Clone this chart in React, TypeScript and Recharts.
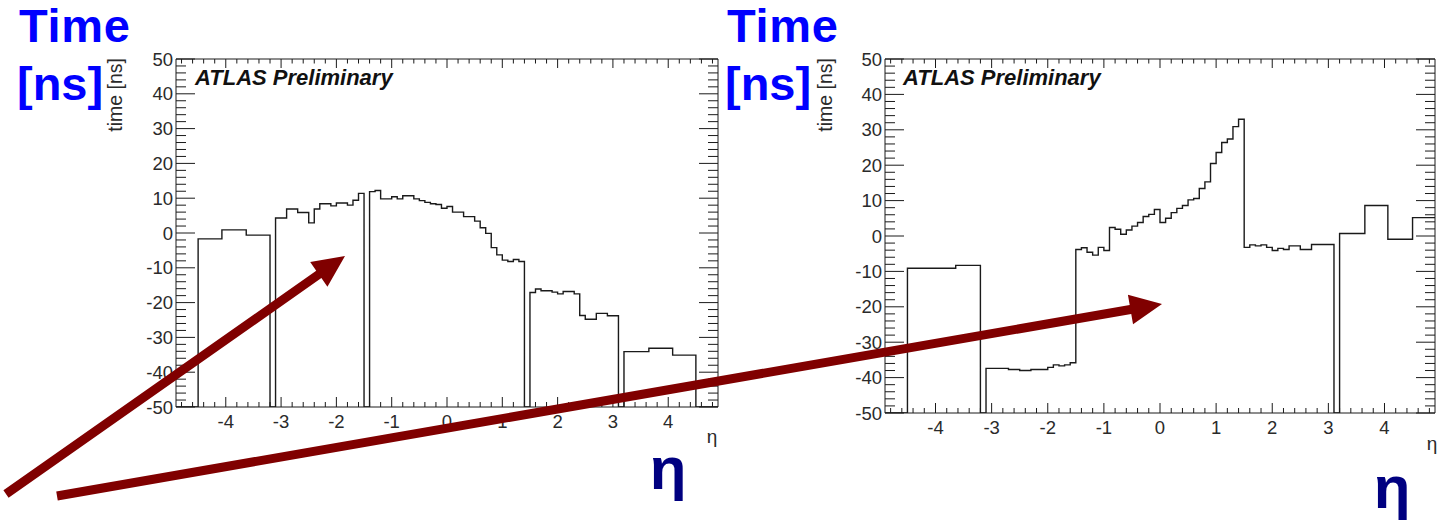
import React from "react";
import { LineChart, Line, XAxis, YAxis } from "recharts";

// ---- data: bin left edges (eta) and mean time [ns]; -50 = empty bin (drawn to frame bottom)
const leftEta = [
  -4.9, -4.5, -4.07, -3.63, -3.2, -3.1, -2.9, -2.7, -2.5, -2.4, -2.3, -2.1, -2.0, -1.8, -1.7, -1.6,
  -1.5, -1.4, -1.3, -1.2, -1.1, -1.0, -0.9, -0.8, -0.7, -0.6, -0.5, -0.4, -0.3, -0.2, -0.1, 0.0,
  0.1, 0.2, 0.3, 0.4, 0.5, 0.6, 0.7, 0.8, 0.9, 1.0, 1.1, 1.2, 1.3, 1.4, 1.5, 1.6, 1.7, 1.9, 2.0,
  2.1, 2.3, 2.4, 2.5, 2.7, 2.9, 3.1, 3.2, 3.65, 4.08, 4.5, 4.9,
];
const leftTime = [
  -50, -1.7, 0.9, -0.6, -50, 4.3, 6.9, 5.9, 2.9, 6.9, 8.4, 7.8, 8.6, 8.0, 9.4, 11.4,
  -50, 11.9, 12.2, 9.8, 9.8, 10.4, 9.8, 10.7, 10.7, 9.8, 9.3, 8.8, 8.4, 8.2, 7.1, 7.6,
  6.0, 6.0, 4.7, 4.7, 3.4, 1.5, -0.1, -4.2, -6.3, -7.8, -8.2, -7.6, -8.2, -50, -17.1, -16.1, -16.6, -17.0, -17.5,
  -16.8, -17.5, -23.7, -24.8, -23.1, -23.8, -50, -34.1, -33.1, -35.1, -50, -50,
];

const rightEta = [
  -4.9, -4.5, -3.64, -3.2, -3.1, -2.7, -2.5, -2.3, -2.0, -1.9, -1.8, -1.7, -1.6,
  -1.5, -1.4, -1.3, -1.2, -1.1, -1.0, -0.9, -0.8, -0.7, -0.6, -0.5, -0.4, -0.3, -0.2, -0.1,
  0.0, 0.1, 0.2, 0.3, 0.4, 0.5, 0.6, 0.7, 0.8, 0.9, 1.0, 1.1, 1.2, 1.3, 1.4,
  1.5, 1.6, 1.7, 1.8, 1.9, 2.0, 2.1, 2.2, 2.3, 2.5, 2.7, 3.1, 3.2, 3.65, 4.06, 4.5, 4.9,
];
const rightTime = [
  -50, -9.1, -8.3, -50, -37.4, -37.7, -38.0, -37.7, -37.1, -36.4, -36.7, -36.4, -35.8,
  -3.8, -3.3, -4.6, -5.4, -3.2, -4.1, 2.4, 1.9, 0.5, 1.7, 2.8, 3.8, 5.5, 6.1, 7.5,
  3.8, 5.0, 6.6, 7.8, 8.6, 10.2, 10.6, 13.4, 15.3, 20.5, 23.6, 26.4, 27.4, 30.9, 33.0,
  -3.2, -2.5, -2.8, -2.5, -3.2, -4.1, -3.5, -3.8, -2.8, -3.8, -2.4, -50, 0.7, 8.6, -0.9, 5.2, 5.2,
];

const etaMajor = [-4, -3, -2, -1, 0, 1, 2, 3, 4];
const etaTicks = Array.from({ length: 49 }, (_, i) => Math.round((-4.8 + i * 0.2) * 10) / 10);
const timeMajor = [-50, -40, -30, -20, -10, 0, 10, 20, 30, 40, 50];
const timeTicks = Array.from({ length: 51 }, (_, i) => -50 + i * 2);

const leftData = leftEta.map((eta, i) => ({ eta, t: leftTime[i] }));
const rightData = rightEta.map((eta, i) => ({ eta, t: rightTime[i] }));

const INK = "#1a1a1a";
const LABEL = "#2a2a2a";
const FONT = "'Liberation Sans', Arial, sans-serif";

const onList = (v: number, list: number[]) => list.some((m) => Math.abs(m - v) < 1e-6);

const BottomTick = (p: any) => {
  const v = p.payload.value;
  const major = onList(v, etaMajor);
  return (
    <g>
      <line x1={p.x} y1={p.y} x2={p.x} y2={p.y - (major ? 10 : 5)} stroke={INK} />
      {major && (
        <text x={p.x} y={p.y + 21} textAnchor="middle" fontSize={18.5} fontFamily={FONT} fill={LABEL}>
          {v}
        </text>
      )}
    </g>
  );
};

const TopTick = (p: any) => {
  const major = onList(p.payload.value, etaMajor);
  return <line x1={p.x} y1={p.y} x2={p.x} y2={p.y + (major ? 9 : 4.5)} stroke={INK} />;
};

const LeftTick = (p: any) => {
  const v = p.payload.value;
  const major = onList(v, timeMajor);
  return (
    <g>
      <line x1={p.x} y1={p.y} x2={p.x + (major ? 19 : 10)} y2={p.y} stroke={INK} />
      {major && (
        <text x={p.x - 3} y={p.y + 6.5} textAnchor="end" fontSize={18.5} fontFamily={FONT} fill={LABEL}>
          {v}
        </text>
      )}
    </g>
  );
};

const RightTick = (p: any) => {
  const major = onList(p.payload.value, timeMajor);
  return <line x1={p.x} y1={p.y} x2={p.x - (major ? 19 : 10)} y2={p.y} stroke={INK} />;
};

const Panel = ({ data, width, margin }: { data: any[]; width: number; margin: any }) => (
  <LineChart width={width} height={470} data={data} margin={margin}>
    <XAxis
      dataKey="eta"
      type="number"
      domain={[-4.9, 4.9]}
      allowDataOverflow
      ticks={etaTicks}
      interval={0}
      height={30}
      tickSize={0}
      tickMargin={0}
      axisLine={{ stroke: INK }}
      tick={(p: any) => <BottomTick {...p} />}
    />
    <XAxis
      xAxisId="top"
      orientation="top"
      dataKey="eta"
      type="number"
      domain={[-4.9, 4.9]}
      allowDataOverflow
      ticks={etaTicks}
      interval={0}
      height={1}
      tickSize={0}
      tickMargin={0}
      axisLine={{ stroke: INK }}
      tick={(p: any) => <TopTick {...p} />}
    />
    <YAxis
      type="number"
      domain={[-50, 50]}
      allowDataOverflow
      ticks={timeTicks}
      interval={0}
      width={60}
      tickSize={0}
      tickMargin={0}
      axisLine={{ stroke: INK }}
      tick={(p: any) => <LeftTick {...p} />}
    />
    <YAxis
      yAxisId="right"
      orientation="right"
      type="number"
      domain={[-50, 50]}
      allowDataOverflow
      ticks={timeTicks}
      interval={0}
      width={1}
      tickSize={0}
      tickMargin={0}
      axisLine={{ stroke: INK }}
      tick={(p: any) => <RightTick {...p} />}
    />
    <Line
      dataKey="t"
      type="stepAfter"
      stroke={INK}
      strokeWidth={1.4}
      dot={false}
      activeDot={false}
      isAnimationActive={false}
    />
  </LineChart>
);

// arrow polygon from tail to tip
const arrowPoints = (x0: number, y0: number, x1: number, y1: number) => {
  const dx = x1 - x0;
  const dy = y1 - y0;
  const len = Math.hypot(dx, dy);
  const ux = dx / len;
  const uy = dy / len;
  const nx = -uy;
  const ny = ux;
  const hl = 32;
  const hw = 15;
  const sw = 4.5;
  const bx = x1 - ux * hl;
  const by = y1 - uy * hl;
  const pts = [
    [x0 + nx * sw, y0 + ny * sw],
    [bx + nx * sw, by + ny * sw],
    [bx + nx * hw, by + ny * hw],
    [x1, y1],
    [bx - nx * hw, by - ny * hw],
    [bx - nx * sw, by - ny * sw],
    [x0 - nx * sw, y0 - ny * sw],
  ];
  return pts.map((q) => q.join(",")).join(" ");
};

export default function App() {
  return (
    <div
      style={{
        position: "absolute",
        left: 0,
        top: 0,
        width: 1452,
        height: 522,
        background: "#fff",
        overflow: "hidden",
      }}
    >
      <div style={{ position: "absolute", left: 0, top: 0 }}>
        <Panel data={leftData} width={760} margin={{ top: 58, right: 41, left: 116, bottom: 33 }} />
      </div>
      <div style={{ position: "absolute", left: 760, top: 0 }}>
        <Panel data={rightData} width={692} margin={{ top: 58, right: 16, left: 65, bottom: 27 }} />
      </div>
      <svg
        width={1452}
        height={522}
        style={{ position: "absolute", left: 0, top: 0, pointerEvents: "none" }}
      >
        <g fontFamily={FONT}>
          {/* panel annotations */}
          <text x={195} y={85} fontSize={22} fontWeight="bold" fontStyle="italic" fill="#111">
            ATLAS Preliminary
          </text>
          <text x={903} y={85} fontSize={22} fontWeight="bold" fontStyle="italic" fill="#111">
            ATLAS Preliminary
          </text>
          <text transform="translate(122,58) rotate(-90)" textAnchor="end" fontSize={19.5} fill={LABEL}>
            time [ns]
          </text>
          <text transform="translate(832,58) rotate(-90)" textAnchor="end" fontSize={19.5} fill={LABEL}>
            time [ns]
          </text>
          <text x={712} y={443} textAnchor="middle" fontSize={19} fill={LABEL}>
            η
          </text>
          <text x={1432} y={450} textAnchor="middle" fontSize={19} fill={LABEL}>
            η
          </text>

          {/* slide overlay */}
          <text x={19} y={42} fontSize={47} fontWeight="bold" fill="#0000ff" textLength={111}>
            Time
          </text>
          <text x={17} y={100} fontSize={47} fontWeight="bold" fill="#0000ff">
            [ns]
          </text>
          <text x={727} y={42} fontSize={47} fontWeight="bold" fill="#0000ff" textLength={111}>
            Time
          </text>
          <text x={725} y={100} fontSize={47} fontWeight="bold" fill="#0000ff">
            [ns]
          </text>
          <text x={668} y={489} textAnchor="middle" fontSize={60} fontWeight="bold" fill="#000080">
            η
          </text>
          <text x={1392} y={508} textAnchor="middle" fontSize={60} fontWeight="bold" fill="#000080">
            η
          </text>
        </g>
        <polygon points={arrowPoints(6, 494, 345, 256)} fill="#800000" />
        <polygon points={arrowPoints(57, 496, 1162, 304)} fill="#800000" />
      </svg>
    </div>
  );
}
